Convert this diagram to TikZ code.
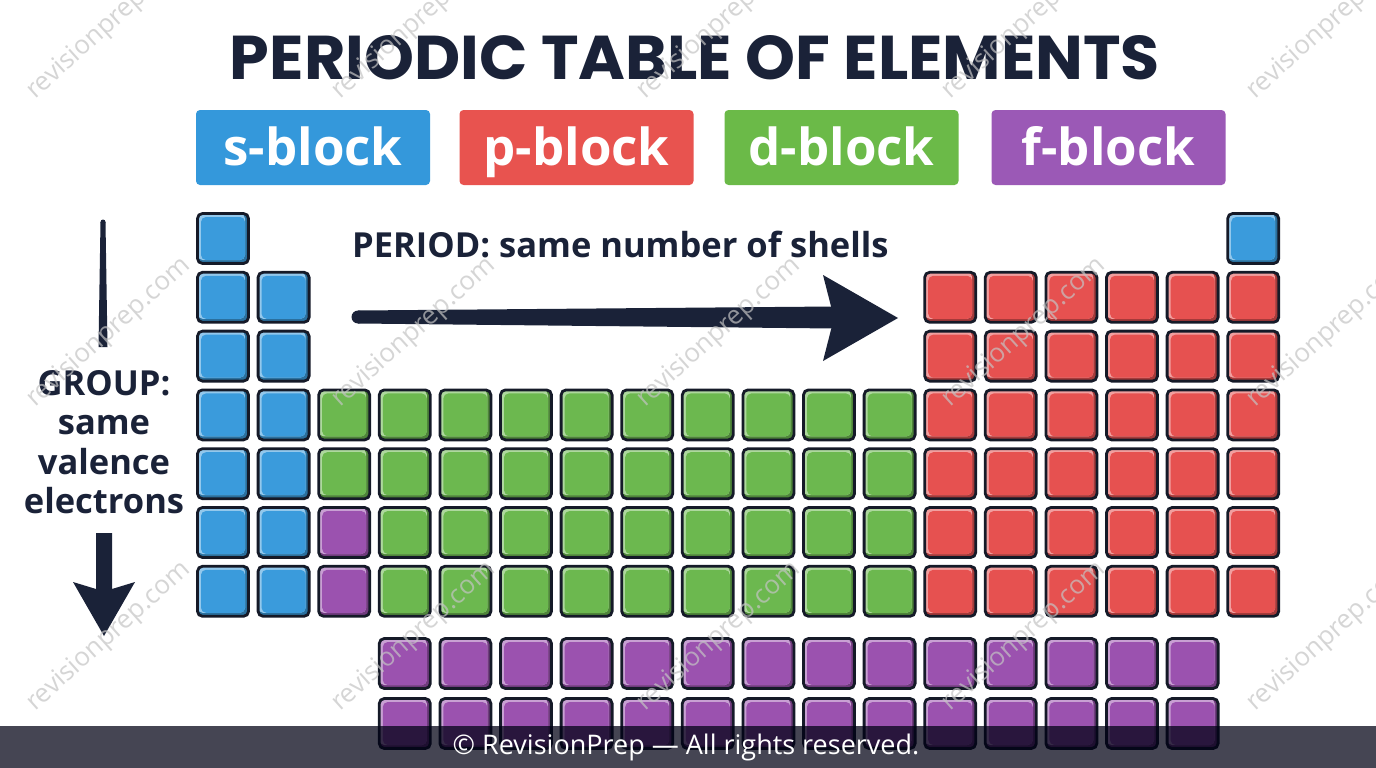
\documentclass[tikz,border=0pt]{standalone}
\usepackage{fontspec}
\setmainfont{Open Sans}
\newfontfamily\titlefont{Poppins}
\usetikzlibrary{calc}
\definecolor{ink}{HTML}{1A2238}
\definecolor{outl}{HTML}{151A28}
\definecolor{sblue}{HTML}{3A9BDC}
\definecolor{pred}{HTML}{E65150}
\definecolor{dgreen}{HTML}{6CB84F}
\definecolor{fpurple}{HTML}{9B52AF}
\definecolor{lblue}{HTML}{3498DB}
\definecolor{lred}{HTML}{E8534F}
\definecolor{lgreen}{HTML}{6BBA48}
\definecolor{lpurple}{HTML}{9B59B6}
\definecolor{wmgray}{HTML}{C4C4C4}
\tikzset{
  cell/.style={draw=outl, line width=2.8pt, rounded corners=5pt,
    minimum width=51pt, minimum height=50pt, inner sep=0pt, outer sep=0pt, fill=#1,
    path picture={
      \fill[#1!72!black] (path picture bounding box.south west) rectangle (path picture bounding box.north east);
      \fill[#1!55!white] ([yshift=3.5pt]path picture bounding box.south west) rectangle ([xshift=-3.5pt]path picture bounding box.north east);
      \fill[#1] ([shift={(3.5pt,3.5pt)}]path picture bounding box.south west) rectangle ([shift={(-3.5pt,-3.5pt)}]path picture bounding box.north east);
    }},
  legend/.style={fill=#1, rounded corners=4pt, minimum width=234pt, minimum height=75pt,
    inner sep=0pt, text=white, text height=40pt, text depth=5pt,
    font=\bfseries\fontsize{51}{51}\selectfont},
  label/.style={text=ink, inner sep=0pt, font=\bfseries\fontsize{34.5}{39.5}\selectfont},
  wm/.style={text=wmgray, opacity=0.7, inner sep=0pt, rotate=42, anchor=base west,
    font=\fontsize{26}{26}\selectfont}
}
\newcommand\pcell[4]{\node[cell=#4] (#1) at ({223+60.6*(#2-1)},{#3+26.5}) {};}
\begin{document}
\begin{tikzpicture}[x=1pt,y=-1pt]
\useasboundingbox (0,0) rectangle (1376,768);
\fill[white] (0,0) rectangle (1376,768);

% title
\node[text=ink, inner sep=0pt, anchor=base] (title) at (695,80)
  {\resizebox{930pt}{44pt}{\titlefont\bfseries PERIODIC TABLE OF ELEMENTS}};

% legend
\node[legend=lblue]   (lgs) at (313,147.5) {s-block};
\node[legend=lred]    (lgp) at (576.5,147.5) {p-block};
\node[legend=lgreen]  (lgd) at (841.5,147.5) {d-block};
\node[legend=lpurple] (lgf) at (1108.5,147.5) {f-block};

% main table
\pcell{s-1-1}{1}{212}{sblue}
\pcell{s-1-18}{18}{212}{sblue}
\foreach \r in {2,...,7}{
  \foreach \c in {1,2}{\pcell{s-\r-\c}{\c}{212+58.8*(\r-1)}{sblue}}
  \foreach \c in {13,...,18}{\pcell{p-\r-\c}{\c}{212+58.8*(\r-1)}{pred}}
}
\foreach \r in {4,5}{
  \foreach \c in {3,...,12}{\pcell{d-\r-\c}{\c}{212+58.8*(\r-1)}{dgreen}}
}
\foreach \r in {6,7}{
  \pcell{f-\r-3}{3}{212+58.8*(\r-1)}{fpurple}
  \foreach \c in {4,...,12}{\pcell{d-\r-\c}{\c}{212+58.8*(\r-1)}{dgreen}}
}
% f-block rows
\foreach \c in {4,...,17}{
  \pcell{fa-\c}{\c}{637}{fpurple}
  \pcell{fb-\c}{\c}{697}{fpurple}
}

% period label and arrow
\node[label, anchor=base west] (period) at (352,257) {PERIOD: same number of shells};
\fill[ink] (358,310.5) -- (834,306.5) -- (834,328.5) -- (358,323.5) -- cycle;
\fill[ink] (358,317) circle[radius=6.5pt];
\fill[ink] (823,275) -- (898,318) -- (823,361) -- (834,318) -- cycle;

% group label and arrows
\fill[ink] (100.5,222) -- (105.5,222) -- (107.5,347) -- (98.5,347) -- cycle;
\fill[ink] (103,222) circle[radius=2.5pt];
\node[label, align=center, anchor=north] (group) at (104,370) {GROUP:\\same\\valence\\electrons};
\fill[ink] (96,533) -- (112,533) -- (112,589) -- (135,582) -- (104,636) -- (73,582) -- (96,589) -- cycle;

% watermarks
\foreach \i/\x in {1/35,2/340,3/645,4/950,5/1255}{
  \foreach \j/\y in {1/100,2/408,3/712}{
    \node[wm] (wm-\i-\j) at (\x,\y) {revisionprep.com};
  }
}

% footer
\fill[black!92!blue, fill opacity=0.73] (0,726) rectangle (1376,768);
\node[text=white, inner sep=0pt, font=\fontsize{27}{27}\selectfont] (foot) at (686,747)
  {© RevisionPrep — All rights reserved.};
\end{tikzpicture}
\end{document}
